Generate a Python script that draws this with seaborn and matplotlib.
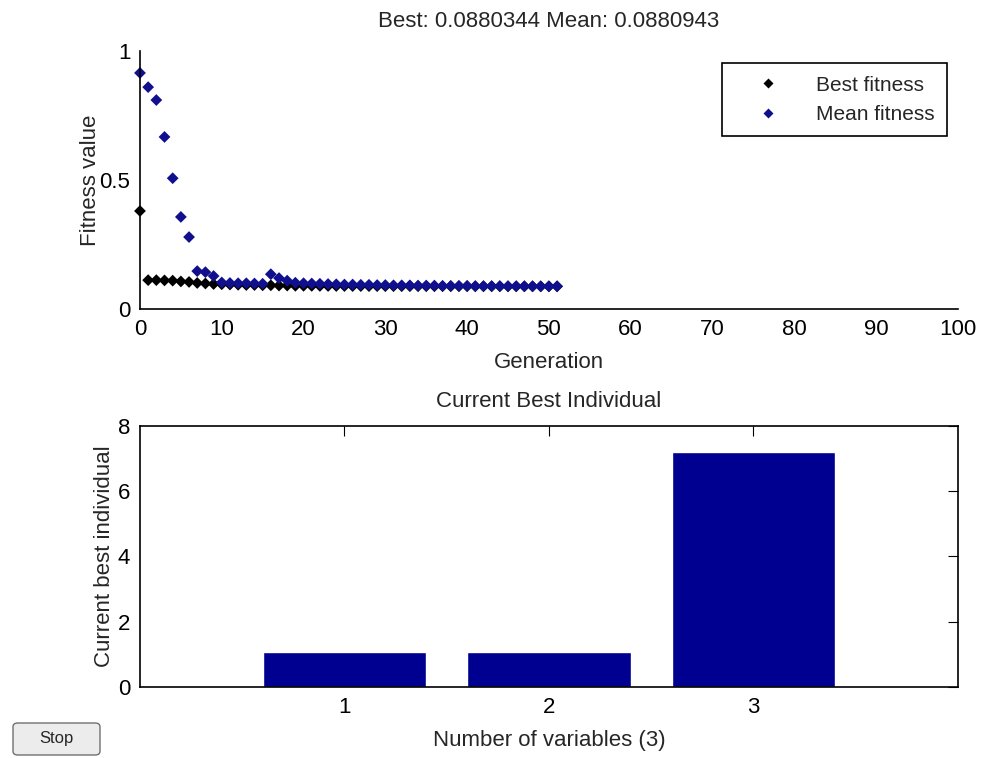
import pandas as pd
import seaborn as sns
import matplotlib.pyplot as plt
from matplotlib.patches import FancyBboxPatch
from matplotlib.ticker import FormatStrFormatter

# 世代ごとの適応度
generations = list(range(52))
best_fitness = [0.380, 0.112, 0.112, 0.111, 0.110, 0.107, 0.105, 0.101, 0.099, 0.097,
                0.096, 0.095, 0.094, 0.093, 0.093, 0.092, 0.092, 0.091, 0.091, 0.090,
                0.090, 0.0898, 0.0896, 0.0894, 0.0892, 0.0891, 0.0890, 0.0889, 0.0888, 0.0887,
                0.0886, 0.0886, 0.0885, 0.0885, 0.0884, 0.0884, 0.0883, 0.0883, 0.0882, 0.0882,
                0.0882, 0.0881, 0.0881, 0.0881, 0.0881, 0.0880, 0.0880, 0.0880, 0.0880, 0.0880,
                0.0880, 0.0880]
mean_fitness = [0.915, 0.860, 0.810, 0.667, 0.507, 0.357, 0.279, 0.147, 0.143, 0.128,
                0.103, 0.101, 0.100, 0.100, 0.099, 0.098, 0.135, 0.120, 0.110, 0.102,
                0.100, 0.099, 0.098, 0.097, 0.096, 0.095, 0.095, 0.094, 0.094, 0.093,
                0.093, 0.092, 0.092, 0.092, 0.091, 0.091, 0.091, 0.090, 0.090, 0.090,
                0.090, 0.089, 0.089, 0.089, 0.089, 0.0885, 0.0885, 0.0883, 0.0882, 0.0881,
                0.0881, 0.0881]

# 現在の最良個体
variables = [1, 2, 3]
best_individual = [1.07, 1.07, 7.2]

sns.set_style('white')
plt.rcParams['font.family'] = ['Liberation Sans', 'DejaVu Sans']
plt.rcParams['font.size'] = 15

fitness_df = pd.DataFrame({
    'Generation': generations * 2,
    'Fitness value': best_fitness + mean_fitness,
    'kind': ['Best fitness'] * len(generations) + ['Mean fitness'] * len(generations),
})
bar_df = pd.DataFrame({'var': variables, 'value': best_individual})

fig = plt.figure(figsize=(9.83, 7.58), dpi=100)
ax1 = fig.add_axes([0.1424, 0.5923, 0.832, 0.3404])
ax2 = fig.add_axes([0.1424, 0.0937, 0.832, 0.3443])

# 上段：適応度の散布図
sns.scatterplot(data=fitness_df, x='Generation', y='Fitness value', hue='kind',
                palette={'Best fitness': 'black', 'Mean fitness': '#10108f'},
                marker='D', s=36, edgecolor='none', ax=ax1, clip_on=False)
ax1.set_xlim(0, 100)
ax1.set_ylim(0, 1)
ax1.set_xticks(range(0, 101, 10))
ax1.set_yticks([0, 0.5, 1])
ax1.yaxis.set_major_formatter(FormatStrFormatter('%g'))
for side in ['top', 'right']:
    ax1.spines[side].set_visible(False)
for side in ['left', 'bottom']:
    ax1.spines[side].set_color('black')
    ax1.spines[side].set_linewidth(1.2)
ax1.tick_params(direction='in', length=7, colors='black', labelsize=16, pad=7)
ax1.set_xlabel('Generation', fontsize=16, labelpad=9)
ax1.set_ylabel('Fitness value', fontsize=16, labelpad=-1)
ax1.set_title('Best: 0.0880344 Mean: 0.0880943', fontsize=16, pad=17)
leg = ax1.legend(loc='upper right', bbox_to_anchor=(0.9866, 0.9535), fancybox=False,
                 edgecolor='black', fontsize=15, handlelength=3.2, handletextpad=0.7,
                 borderpad=0.6, borderaxespad=0, labelspacing=0.5,
                 markerscale=0.9, framealpha=1)
leg.get_frame().set_linewidth(1.2)

# 下段：最良個体の棒グラフ
sns.barplot(data=bar_df, x='var', y='value', native_scale=True, color='#000090',
            saturation=1, width=0.8, ax=ax2)
ax2.set_xlim(0, 4)
ax2.set_ylim(0, 8)
ax2.set_xticks(variables)
ax2.set_yticks([0, 2, 4, 6, 8])
for side in ['top', 'right', 'left', 'bottom']:
    ax2.spines[side].set_color('black')
    ax2.spines[side].set_linewidth(1.2)
ax2.tick_params(direction='in', length=7, colors='black', labelsize=16, pad=7,
                top=True, right=True)
ax2.set_xlabel('Number of variables (3)', fontsize=16, labelpad=9)
ax2.set_ylabel('Current best individual', fontsize=16, labelpad=2)
ax2.set_title('Current Best Individual', fontsize=16, pad=14)

# Stopボタン
button = FancyBboxPatch((13 / 983, 1 - 755 / 758), 87 / 983, 32 / 758,
                        boxstyle='round,pad=0,rounding_size=0.005',
                        transform=fig.transFigure, facecolor='#ececec',
                        edgecolor='#707070', linewidth=1)
fig.patches.append(button)
fig.text(56 / 983, 1 - 739 / 758, 'Stop', ha='center', va='center', fontsize=12)

fig.savefig('out.png', dpi=100)
